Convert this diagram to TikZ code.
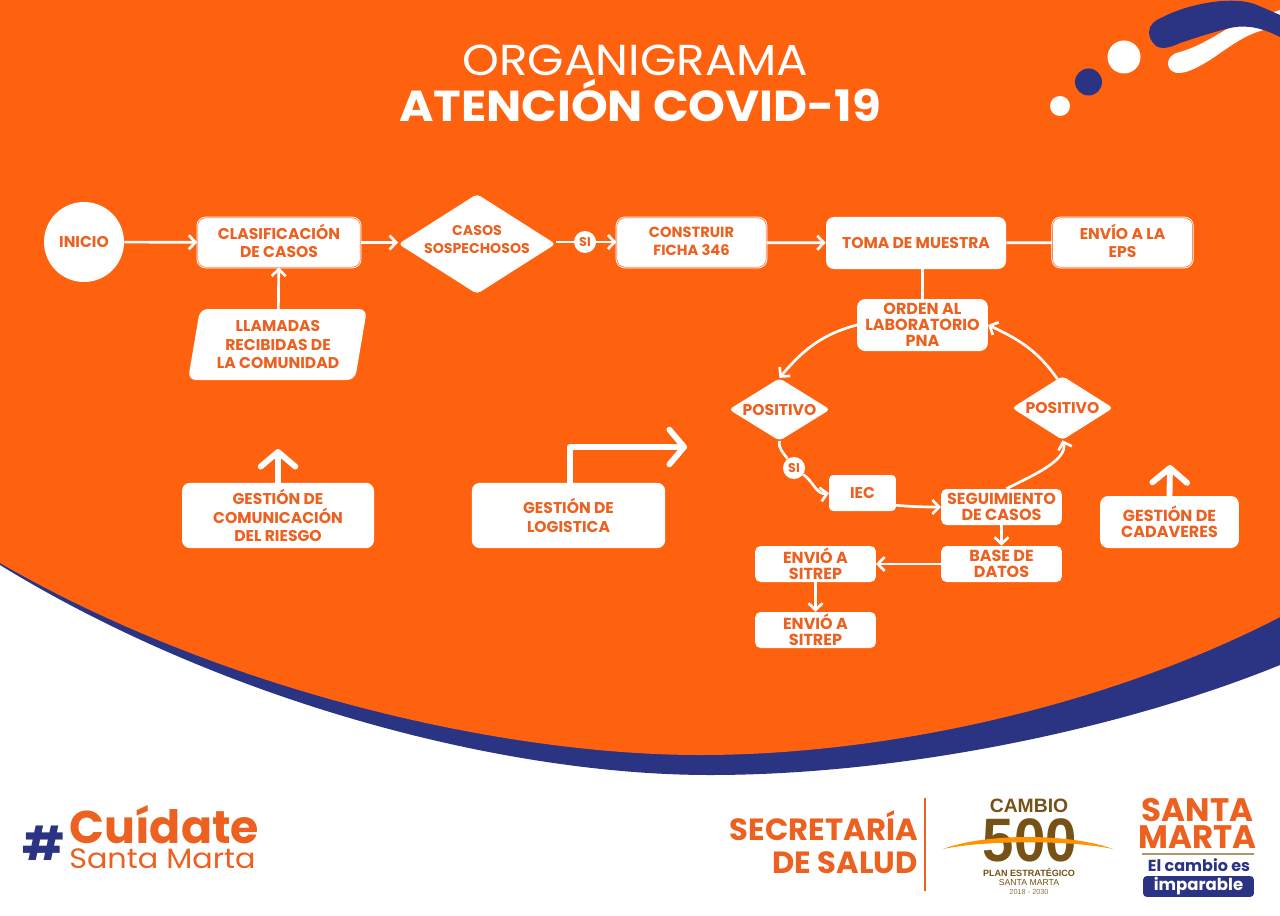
\documentclass[tikz,border=0pt]{standalone}
\usepackage{fontspec}
\setmainfont{Poppins}
\newfontfamily\logofont{Liberation Sans}
\usetikzlibrary{arrows.meta,shapes.geometric}
\definecolor{naranja}{HTML}{FF620F}
\definecolor{texto}{HTML}{EC6120}
\definecolor{azul}{HTML}{2A3482}
\definecolor{cafe}{HTML}{765216}
\tikzset{
  caja/.style={fill=white,rounded corners=6pt,text=texto,align=center,inner sep=0pt,font=\fontsize{11.7}{13.6}\selectfont\bfseries},
  cajita/.style={caja,rounded corners=4pt,minimum width=90.5pt,minimum height=27pt,font=\fontsize{12}{12}\selectfont\bfseries},
  cajadoble/.style={caja,draw=white,line width=0.55pt,double=texto!70!white,double distance=0.6pt},
  rombo/.style={caja,diamond,aspect=1.6,rounded corners=3pt,inner sep=-5pt},
  nota/.style={circle,fill=white,text=texto,inner sep=0pt,minimum size=16.5pt,font=\fontsize{9.5}{11}\selectfont\bfseries},
  logo/.style={inner sep=0pt,text=cafe},
  linea/.style={draw=white,line width=2pt},
  flecha/.style={linea,->},
  flechota/.style={draw=white,line width=4.4pt,line cap=round,line join=round,-{Straight Barb[round,length=11pt,width=26pt]}}
}
\begin{document}
\begin{tikzpicture}[x=0.75pt,y=-0.75pt,>={Straight Barb[length=5pt,width=10.5pt]}]
  \useasboundingbox (0,0) rectangle (1280,916);

  %Fondo
  \fill[white] (0,0) rectangle (1280,916);
  \fill[azul] (0,0) -- (0,565) .. controls (220,700) and (500,775) .. (710,775) .. controls (900,775) and (1120,730) .. (1280,665) -- (1280,0) -- cycle;
  \fill[naranja] (0,0) -- (0,563) .. controls (220,690) and (500,755) .. (700,755) .. controls (900,755) and (1120,700) .. (1280,617) -- (1280,0) -- cycle;

  %Adorno
  \fill[white] (1180,52) .. controls (1200,46) and (1215,36) .. (1232,26) -- (1280,10) -- (1280,25) -- (1257,32) .. controls (1240,38) and (1225,50) .. (1210,60) .. controls (1200,66) and (1190,72) .. (1180,73) .. controls (1165,74) and (1163,55) .. (1180,52) -- cycle;
  \fill[azul] (1149,32) .. controls (1149,25) and (1155,20) .. (1163,17) .. controls (1180,8) and (1205,2) .. (1223,1) .. controls (1240,0) and (1250,2) .. (1257,5) -- (1280,15) -- (1280,37) .. controls (1270,32) and (1260,28) .. (1250,27) .. controls (1240,26) and (1235,27) .. (1230,28) .. controls (1210,33) and (1195,38) .. (1180,43) .. controls (1170,48) and (1160,50) .. (1155,45) .. controls (1151,41) and (1149,37) .. (1149,32) -- cycle;
  \fill[white] (1124,57) circle (16.5);
  \fill[azul] (1088.5,82) circle (13.5);
  \fill[white] (1060,106) circle (10);

  %Titulo
  \node[text=white,xscale=1.08,transform shape,font=\fontsize{32.5}{34}\selectfont] (organigrama) at (635.5,60) {ORGANIGRAMA};
  \node[text=white,xscale=1.08,transform shape,font=\fontsize{32.5}{34}\selectfont\bfseries] (atencion) at (640,101) {ATENCIÓN COVID-19};

  %Fila de arriba
  \node[caja,circle,minimum size=60pt] (inicio) at (84,242) {INICIO};
  \node[cajadoble,text depth=3pt,minimum width=122pt,minimum height=37pt] (clasificacion) at (279,242.5) {CLASIFICACIÓN\\DE CASOS};
  \node[rombo,text depth=7.5pt,minimum width=118pt,minimum height=75pt,font=\fontsize{10.6}{13.5}\selectfont\bfseries] (sospechosos) at (477,244) {CASOS\\SOSPECHOSOS};
  \node[nota] (si) at (585,242) {SI};
  \node[cajadoble,text depth=1.5pt,minimum width=112pt,minimum height=37pt,font=\fontsize{11}{13.5}\selectfont\bfseries] (ficha) at (691.5,242.5) {CONSTRUIR\\FICHA 346};
  \node[caja,minimum width=135pt,minimum height=39pt] (muestra) at (916,243) {TOMA DE MUESTRA};
  \node[cajadoble,text depth=3pt,minimum width=105pt,minimum height=37pt] (eps) at (1122.5,242.5) {ENVÍO A LA\\EPS};

  %Llamadas
  \fill[white,rounded corners=6pt] (200,309) -- (367,309) -- (355,380) -- (188,380) -- cycle;
  \node[caja,fill=none,minimum width=125pt,minimum height=53pt] (llamadas) at (278,344.5) {LLAMADAS\\RECIBIDAS DE\\LA COMUNIDAD};

  %Laboratorio
  \node[caja,minimum width=98pt,minimum height=39pt,font=\fontsize{12}{12}\selectfont\bfseries] (orden) at (922.5,325) {ORDEN AL\\LABORATORIO\\PNA};
  \node[rombo,minimum width=76pt,minimum height=47pt] (positivoa) at (779.5,409.5) {POSITIVO};
  \node[rombo,minimum width=76pt,minimum height=48pt] (positivob) at (1062.5,408) {POSITIVO};
  \node[nota] (sib) at (794,468) {SI};
  \node[caja,rounded corners=3pt,minimum width=50pt,minimum height=27pt] (iec) at (862.5,493) {IEC};
  \node[cajita] (seguimiento) at (1001.5,507) {SEGUIMIENTO\\DE CASOS};
  \node[cajita] (base) at (1001.5,564) {BASE DE\\DATOS};
  \node[cajita] (sitrepa) at (815.5,564) {ENVIÓ A\\SITREP};
  \node[cajita] (sitrepb) at (815.5,630) {ENVIÓ A\\SITREP};

  %Gestiones
  \node[caja,minimum width=144pt,minimum height=49pt] (comunicacion) at (278,515.5) {GESTIÓN DE\\COMUNICACIÓN\\DEL RIESGO};
  \node[caja,minimum width=145pt,minimum height=49pt] (logistica) at (568.5,515.5) {GESTIÓN DE\\LOGISTICA};
  \node[caja,minimum width=104pt,minimum height=39pt,font=\fontsize{12}{12}\selectfont\bfseries] (cadaveres) at (1169.5,522) {GESTIÓN DE\\CADAVERES};
  \coordinate (comunicacion_fin) at (278,449);
  \coordinate (logistica_fin) at (687,447);
  \coordinate (cadaveres_fin) at (1170,465);

  %Flechas
  \draw[flecha] (inicio) -- (clasificacion);
  \draw[flecha] (llamadas) -- (clasificacion);
  \draw[flecha] (clasificacion) -- (clasificacion-|sospechosos.west);
  \draw[linea] (si-|sospechosos.east) -- (si);
  \draw[flecha] (si) -- (si-|ficha.west);
  \draw[flecha] (ficha) -- (muestra);
  \draw[linea] (muestra) -- (eps);
  \draw[linea] (muestra.south-|orden) -- (orden);
  \draw[flecha] (orden.west) to[out=195,in=50] (positivoa.north);
  \draw[flecha] (positivob.100) to[out=125,in=-25] (orden.east);
  \draw[linea] (positivoa.south) to[out=-100,in=125] (sib);
  \draw[flecha] (sib) to[out=-35,in=190] (iec.west);
  \draw[flecha] (iec.south east) ++(0,-6) to[out=-5,in=180] (seguimiento.west);
  \draw[flecha] (seguimiento.north) ++(5,0) to[out=28,in=-72,looseness=0.75] (positivob.south);
  \draw[flecha] (seguimiento) -- (base);
  \draw[flecha] (base) -- (sitrepa);
  \draw[flecha] (sitrepa) -- (sitrepb);
  \draw[flechota] (comunicacion.north) -- (comunicacion_fin);
  \draw[flechota] (logistica.north west) ++(98,0) |- (logistica_fin);
  \draw[flechota] (cadaveres.north) -- (cadaveres_fin);

  %Pie izquierdo
  \node[text=azul,font=\fontsize{35}{38}\selectfont\bfseries] (numeral) at (44,843) {\#};
  \node[logo,text=texto,anchor=base west,font=\fontsize{34.4}{36}\selectfont\bfseries] (cuidate) at (69,843) {Cuídate};
  \node[logo,text=texto,anchor=base west,xscale=1.08,transform shape,font=\fontsize{21}{23}\selectfont] (santamarta) at (69,868) {Santa Marta};

  %Secretaria
  \node[logo,text=texto,anchor=east,font=\fontsize{23}{25}\selectfont\bfseries] (secretaria) at (918,826) {SECRETARÍA};
  \node[logo,text=texto,anchor=east,font=\fontsize{23}{25}\selectfont\bfseries] (salud) at (918,863) {DE SALUD};
  \draw[texto,line width=1pt] (925,798) -- (925,891);

  %Cambio 500
  \node[logo,anchor=base,font=\logofont\fontsize{14.5}{16}\selectfont\bfseries] (cambio) at (1029,812) {CAMBIO};
  \node[logo,anchor=base,xscale=0.92,transform shape,text depth=0pt,font=\logofont\fontsize{46}{48}\selectfont\bfseries] (quinientos) at (1030,861) {500};
  \fill[orange!85!yellow] (943,849) .. controls (985,833) and (1070,833) .. (1113,849) .. controls (1070,840) and (985,840) .. cycle;
  \node[logo,anchor=base,font=\logofont\fontsize{6.8}{8}\selectfont\bfseries] (plan) at (1029,876) {PLAN ESTRATÉGICO};
  \node[logo,anchor=base,text height=5pt,font=\logofont\fontsize{6.5}{8}\selectfont] (ciudad) at (1029,885.5) {SANTA MARTA};
  \node[logo,anchor=base,text=cafe!80!white,font=\logofont\fontsize{5.5}{7}\selectfont] (periodo) at (1029,894) {2018 - 2030};

  %Santa Marta
  \node[logo,text=texto,anchor=base,font=\fontsize{24.4}{24}\selectfont\bfseries] (santa) at (1197.5,821) {SANTA};
  \node[logo,text=texto,anchor=base,font=\fontsize{24.4}{24}\selectfont\bfseries] (marta) at (1197.5,848) {MARTA};
  \draw[cafe!60!white,line width=1pt] (1142,854) -- (1254,854);
  \node[logo,text=azul,anchor=base,font=\fontsize{12}{14}\selectfont\bfseries] (lema) at (1199,871) {El cambio es};
  \node[fill=azul,text=white,rounded corners=2.5pt,minimum width=83pt,minimum height=15.5pt,inner sep=0pt,font=\fontsize{12.4}{14}\selectfont\bfseries] (imparable) at (1198.5,886.5) {imparable};
\end{tikzpicture}
\end{document}
